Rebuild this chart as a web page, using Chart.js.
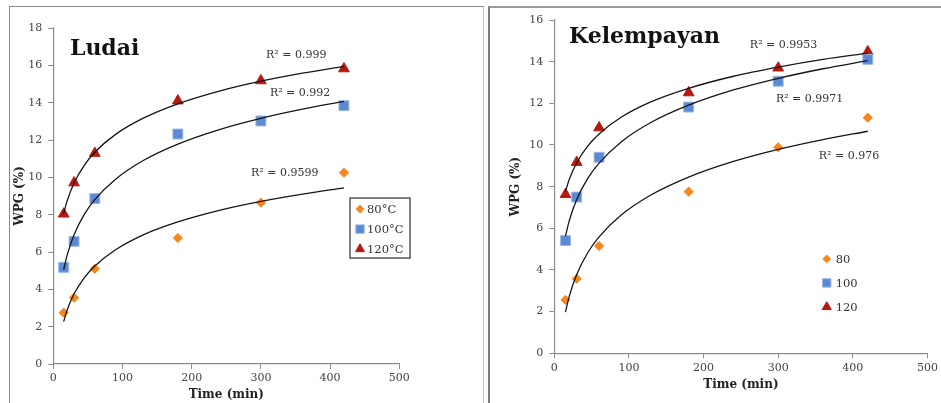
<!DOCTYPE html>
<html>
<head>
<meta charset="utf-8">
<script src="https://cdn.jsdelivr.net/npm/chart.js@4.4.0/dist/chart.umd.min.js"></script>
<style>
  html, body { margin:0; padding:0; background:#fff; }
  #wrap { position:relative; width:941px; height:403px; overflow:hidden; }
  .panel { position:absolute; }
  #panelL { left:9px; top:6px; width:473px; height:420px; border-left:1.5px solid #8a8a8a; border-top:1.5px solid #8a8a8a; border-right:1px solid #c4c4c4; }
  #panelR { left:488px; top:6px; width:460px; height:420px; border-left:2px solid #7a7a7a; border-top:2px solid #9a9a9a; }
  canvas { position:absolute; top:0; }
  #chartL { left:0; }
  #chartR { left:486px; }
</style>
</head>
<body>
<div id="wrap">
  <div class="panel" id="panelL"></div>
  <div class="panel" id="panelR"></div>
  <canvas id="chartL" width="486" height="403"></canvas>
  <canvas id="chartR" width="455" height="403"></canvas>
</div>
<script>
// measured points (min, WPG %)
const times = [15, 30, 60, 180, 300, 420];
const ludai80 = [2.75, 3.55, 5.1, 6.75, 8.64, 10.25];
const ludai100 = [5.18, 6.57, 8.86, 12.32, 13.02, 13.84];
const ludai120 = [8.04, 9.71, 11.29, 14.1, 15.18, 15.82];
const kel80 = [2.56, 3.58, 5.15, 7.76, 9.89, 11.31];
const kel100 = [5.41, 7.5, 9.41, 11.82, 13.06, 14.11];
const kel120 = [7.63, 9.17, 10.83, 12.51, 13.7, 14.48];

// trend curves
const trendTimes = [15, 20, 30, 45, 60, 90, 130, 180, 240, 300, 360, 420];
const ludaiTrend80 = [2.27, 2.89, 3.76, 4.63, 5.25, 6.12, 6.92, 7.61, 8.23, 8.71, 9.1, 9.44];
const ludaiTrend100 = [5.05, 5.83, 6.93, 8.03, 8.81, 9.9, 10.9, 11.78, 12.56, 13.16, 13.65, 14.07];
const ludaiTrend120 = [8.06, 8.74, 9.7, 10.66, 11.34, 12.3, 13.17, 13.94, 14.62, 15.15, 15.58, 15.95];
const kelTrend80 = [1.98, 2.73, 3.78, 4.84, 5.59, 6.65, 7.61, 8.46, 9.21, 9.79, 10.26, 10.66];
const kelTrend100 = [5.63, 6.36, 7.38, 8.41, 9.13, 10.16, 11.09, 11.91, 12.64, 13.2, 13.66, 14.05];
const kelTrend120 = [7.77, 8.34, 9.15, 9.96, 10.53, 11.34, 12.08, 12.72, 13.3, 13.74, 14.11, 14.41];

const ludaiLabels = ['80°C', '100°C', '120°C'];
const kelLabels = ['80', '100', '120'];
const ludaiR2 = ['R² = 0.9599', 'R² = 0.992', 'R² = 0.999'];
const kelR2 = ['R² = 0.976', 'R² = 0.9971', 'R² = 0.9953'];

const SERIF = '"DejaVu Serif", "Liberation Serif", serif';
const styles = [
  { pointStyle: 'rectRot', radius: 4.6, bg: '#f7861c', border: '#f7861c' },
  { pointStyle: 'rect', radius: 7, bg: '#5b8ad5', border: '#98b5e6' },
  { pointStyle: 'triangle', radius: 6.2, bg: '#b51a12', border: '#b51a12' }
];

function pts(xs, ys) {
  return xs.map((x, i) => ({ x: x, y: ys[i] }));
}

function makeDatasets(labels, series, trends) {
  const ds = [];
  series.forEach((s, i) => {
    ds.push({
      label: labels[i],
      data: pts(times, s),
      pointStyle: styles[i].pointStyle,
      pointRadius: styles[i].radius,
      pointBackgroundColor: styles[i].bg,
      pointBorderColor: styles[i].border,
      pointBorderWidth: 1,
      showLine: false,
      order: 1
    });
  });
  trends.forEach(t => {
    ds.push({
      label: '',
      data: pts(trendTimes, t),
      showLine: true,
      borderColor: '#161616',
      borderWidth: 1.3,
      pointRadius: 0,
      cubicInterpolationMode: 'monotone',
      order: 0
    });
  });
  return ds;
}

// titles, R² texts and the legend drawn on the canvas
const annotate = {
  id: 'annotate',
  afterDatasetsDraw(chart, args, opts) {
    const ctx = chart.ctx;
    const xs = chart.scales.x, ys = chart.scales.y;
    ctx.save();
    ctx.textBaseline = 'middle';
    ctx.textAlign = 'left';
    ctx.fillStyle = '#111';
    ctx.font = 'bold 22px ' + SERIF;
    ctx.fillText(opts.title, xs.getPixelForValue(opts.titleAt[0]), ys.getPixelForValue(opts.titleAt[1]));
    ctx.font = '11px ' + SERIF;
    ctx.fillStyle = '#333';
    opts.r2.forEach((t, i) => {
      ctx.fillText(t, xs.getPixelForValue(opts.r2At[i][0]), ys.getPixelForValue(opts.r2At[i][1]));
    });
    // legend
    const lx = xs.getPixelForValue(opts.legendAt[0]);
    const ly = ys.getPixelForValue(opts.legendAt[1]);
    if (opts.legendBox) {
      ctx.strokeStyle = '#555';
      ctx.lineWidth = 1.5;
      ctx.strokeRect(lx, ly, opts.legendBox[0], opts.legendBox[1]);
    }
    ctx.font = '11.5px ' + SERIF;
    opts.labels.forEach((lab, i) => {
      const y = ly + opts.legendFirst + i * opts.legendStep;
      const st = styles[i];
      ctx.fillStyle = st.bg;
      ctx.strokeStyle = st.border;
      ctx.lineWidth = 1;
      Chart.helpers.drawPoint(ctx, { pointStyle: st.pointStyle, radius: st.radius * 0.85, rotation: 0, borderWidth: 1 }, lx + opts.legendMarkX, y);
      ctx.fillStyle = '#333';
      ctx.fillText(lab, lx + opts.legendTextX, y + 1);
    });
    ctx.restore();
  }
};

function axisOpts(max, yWidth, xHeight, yTitlePad, xTitlePad) {
  const tickFont = { family: SERIF, size: 11 };
  const titleFont = { family: SERIF, size: 12, weight: 'bold' };
  return {
    x: {
      type: 'linear', min: 0, max: 500,
      ticks: { stepSize: 100, font: tickFont, color: '#444', padding: 3 },
      grid: { drawOnChartArea: false, drawTicks: true, tickLength: 5, color: '#8c8c8c' },
      border: { color: '#8c8c8c', width: 1.2 },
      title: { display: true, text: 'Time (min)', font: titleFont, color: '#222', padding: { top: 0, bottom: xTitlePad } },
      afterFit: s => { s.height = xHeight; }
    },
    y: {
      type: 'linear', min: 0, max: max,
      ticks: { stepSize: 2, font: tickFont, color: '#444', padding: 6 },
      grid: { drawOnChartArea: false, drawTicks: true, tickLength: 5, color: '#8c8c8c' },
      border: { color: '#8c8c8c', width: 1.2 },
      title: { display: true, text: 'WPG (%)', font: titleFont, color: '#222', padding: { top: yTitlePad, bottom: 0 } },
      afterFit: s => { s.width = yWidth; }
    }
  };
}

new Chart(document.getElementById('chartL'), {
  type: 'scatter',
  data: { datasets: makeDatasets(ludaiLabels, [ludai80, ludai100, ludai120], [ludaiTrend80, ludaiTrend100, ludaiTrend120]) },
  options: {
    responsive: false,
    animation: false,
    layout: { padding: { left: 0, right: 86.7, top: 28, bottom: 0 } },
    scales: axisOpts(18, 53.3, 39, 12.8, 0.8),
    plugins: {
      legend: { display: false },
      tooltip: { enabled: false },
      annotate: {
        title: 'Ludai', titleAt: [24, 16.87],
        r2: ludaiR2, r2At: [[285.7, 10.23], [313, 14.52], [307.4, 16.55]],
        labels: ludaiLabels,
        legendAt: [428.8, 8.89], legendBox: [60, 60],
        legendFirst: 11, legendStep: 20, legendMarkX: 10, legendTextX: 17
      }
    }
  },
  plugins: [annotate]
});

new Chart(document.getElementById('chartR'), {
  type: 'scatter',
  data: { datasets: makeDatasets(kelLabels, [kel80, kel100, kel120], [kelTrend80, kelTrend100, kelTrend120]) },
  options: {
    responsive: false,
    animation: false,
    layout: { padding: { left: 0, right: 13.3, top: 20, bottom: 0 } },
    scales: axisOpts(16, 68.3, 49.7, 22.5, 10.8),
    plugins: {
      legend: { display: false },
      tooltip: { enabled: false },
      annotate: {
        title: 'Kelempayan', titleAt: [19.7, 15.18],
        r2: kelR2, r2At: [[354.4, 9.47], [296.9, 12.21], [262, 14.8]],
        labels: kelLabels,
        legendAt: [365, 4.53], legendBox: null,
        legendFirst: 0, legendStep: 24, legendMarkX: 0, legendTextX: 9
      }
    }
  },
  plugins: [annotate]
});
</script>
</body>
</html>
